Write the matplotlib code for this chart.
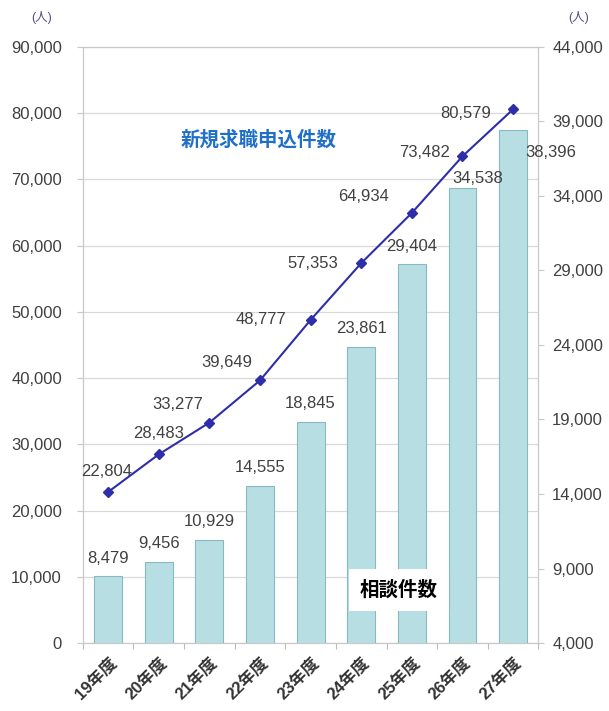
import matplotlib
matplotlib.use("Agg")
import matplotlib.pyplot as plt

plt.rcParams['font.family'] = ['Liberation Sans', 'Noto Sans CJK JP', 'DejaVu Sans']

# data
years = ["19年度", "20年度", "21年度", "22年度", "23年度", "24年度", "25年度", "26年度", "27年度"]
applications = [22804, 28483, 33277, 39649, 48777, 57353, 64934, 73482, 80579]   # 新規求職申込件数 (left)
consultations = [8479, 9456, 10929, 14555, 18845, 23861, 29404, 34538, 38396]   # 相談件数 (right)
left_ticks = list(range(0, 90001, 10000))
right_ticks = list(range(4000, 44001, 5000))

TEXT = "#404040"
BAR = "#b7dfe3"
BAR_EDGE = "#86b9c0"
LINE = "#2e2ea8"
FS = 12

fig = plt.figure(figsize=(6.09, 7.11), dpi=100)
ax1 = fig.add_axes([0.136, 0.0956, 0.748, 0.8384])   # left scale + grid
ax2 = ax1.twinx()                                     # bars, right scale
ax3 = ax1.twinx()                                     # line, same scale as left

x = list(range(len(years)))
LEFT_LIM = (0, 90000)

# grid / left axis
ax1.set_ylim(*LEFT_LIM)
ax1.set_yticks(left_ticks)
ax1.set_yticklabels([f"{v:,}" for v in left_ticks])
ax1.yaxis.grid(True, color="#d9d9d9", linewidth=0.9)
ax1.set_axisbelow(True)
ax1.set_xlim(-0.5, len(years) - 0.5)
ax1.set_xticks([i - 0.5 for i in range(len(years) + 1)], minor=False)
ax1.set_xticklabels([])
ax1.set_xticks(x, minor=True)
ax1.set_xticklabels(years, minor=True, rotation=45, ha="right", rotation_mode="anchor",
                    fontsize=FS, color="#333333", fontweight="bold")
ax1.tick_params(axis="x", which="minor", length=0, pad=8)
ax1.tick_params(axis="x", which="major", length=4, color="#bbbbbb")

# bars on right axis
ax2.bar(x, consultations, width=0.55, color=BAR, edgecolor=BAR_EDGE, linewidth=0.8)
ax2.set_ylim(4000, 44000)
ax2.set_yticks(right_ticks)
ax2.set_yticklabels([f"{v:,}" for v in right_ticks])

# line on its own overlay with the left scale
ax3.plot(x, applications, color=LINE, linewidth=1.5, marker="D", markersize=5.5)
ax3.set_ylim(*LEFT_LIM)
ax3.set_yticks([])
for s in ax3.spines.values():
    s.set_visible(False)

for a in (ax1, ax2):
    for s in a.spines.values():
        s.set_color("#c8c8c8")
    a.tick_params(axis="y", length=4, color="#c8c8c8", labelsize=FS, labelcolor=TEXT)
ax1.tick_params(axis="y", pad=11)
ax2.tick_params(axis="y", pad=6)

# value labels
line_off = [(-1, 15), (0, 15), (-23, 13), (-24, 13), (-36, 0), (-35, 0), (-35, 12), (-27, 3), (-34, -3)]
for i, v in enumerate(applications):
    ax3.annotate(f"{v:,}", (i, v), xytext=line_off[i], textcoords="offset points",
                 ha="center", va="center", fontsize=FS, color=TEXT)
bar_off = [(0, 13)] * 7 + [(11, 7), (27, -16)]
for i, v in enumerate(consultations):
    ax3.annotate(f"{v:,}", (i, v), xytext=bar_off[i], textcoords="offset points",
                 xycoords=("data", ax2.transData), ha="center", va="center",
                 fontsize=FS, color=TEXT)

fig.text(0.424, 0.803, "新規求職申込件数", color="#1f6fc8", fontsize=14, fontweight="bold",
         ha="center", va="center")
fig.text(0.655, 0.170, "相談件数", color="black", fontsize=14, fontweight="bold",
         ha="center", va="center", bbox=dict(facecolor="white", edgecolor="none", pad=8))
fig.text(0.069, 0.975, "(人)", color="#5a4a8a", fontsize=9, ha="center", va="center")
fig.text(0.95, 0.975, "(人)", color="#5a4a8a", fontsize=9, ha="center", va="center")

fig.savefig("out.png", dpi=100)
